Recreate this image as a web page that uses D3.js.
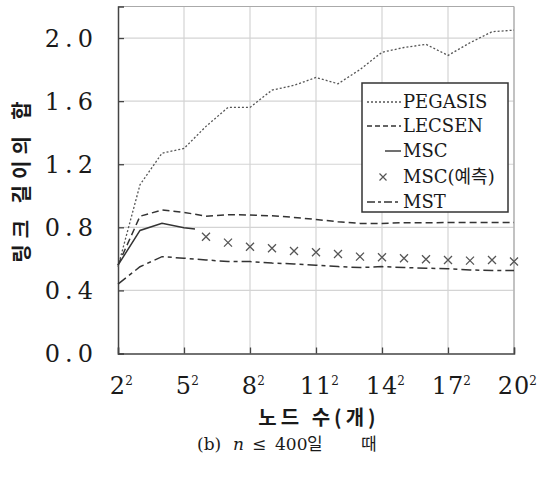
<!DOCTYPE html>
<html>
<head>
<meta charset="utf-8">
<script src="https://cdn.jsdelivr.net/npm/d3@7/dist/d3.min.js"></script>
<style>
html,body{margin:0;padding:0;background:#fff;}
svg{display:block;}
</style>
</head>
<body>
<svg id="chart" width="541" height="478"></svg>
<script>
// ---- data ----
const sideN = [2,3,4,5,6,7,8,9,10,11,12,13,14,15,16,17,18,19,20];
const xTickSides = [2,5,8,11,14,17,20];
const yTickValues = [0,0.4,0.8,1.2,1.6,2.0];
const pegasis = [0.55,1.07,1.27,1.30,1.44,1.56,1.56,1.67,1.70,1.75,1.71,1.80,1.91,1.94,1.96,1.89,1.97,2.04,2.05];
const lecsen  = [0.56,0.87,0.91,0.895,0.87,0.88,0.878,0.873,0.863,0.85,0.835,0.825,0.825,0.829,0.829,0.83,0.83,0.83,0.83];
const mst     = [0.44,0.55,0.614,0.604,0.593,0.583,0.583,0.573,0.568,0.56,0.551,0.545,0.551,0.545,0.541,0.537,0.53,0.526,0.526];
const mscSides = [2,3,4,5,5.5];
const msc      = [0.56,0.78,0.825,0.797,0.79];
const predSides = [6,7,8,9,10,11,12,13,14,15,16,17,18,19,20];
const mscPred   = [0.74,0.703,0.677,0.667,0.65,0.642,0.631,0.614,0.61,0.604,0.598,0.593,0.589,0.593,0.583];
const legendLabels = ["PEGASIS","LECSEN","MSC","MSC(예측)","MST"];
const yTitle = "링크 길이의 합";
const xTitle = "노드 수(개)";

// ---- layout ----
const svg = d3.select("#chart");
const x = d3.scaleLinear().domain([2,20]).range([118,514]);
const y = d3.scaleLinear().domain([0,2.2]).range([353.5,6.5]);
const lineCol = "#333";
const gridCol = "#d4d4d4";
const serif = "'DejaVu Serif','Noto Sans CJK KR',serif";
const kor = "'Noto Sans CJK KR',sans-serif";

// gridlines
svg.append("g").selectAll("line").data(yTickValues.filter(v=>v>0)).join("line")
  .attr("x1",x(2)).attr("x2",x(20)).attr("y1",d=>y(d)).attr("y2",d=>y(d))
  .attr("stroke",gridCol).attr("stroke-width",1.2);
svg.append("g").selectAll("line").data(xTickSides.filter(v=>v>2)).join("line")
  .attr("x1",d=>x(d)).attr("x2",d=>x(d)).attr("y1",y(0)).attr("y2",y(2.2))
  .attr("stroke",gridCol).attr("stroke-width",1.2);
// top & right frame
svg.append("line").attr("x1",x(2)).attr("x2",x(20)).attr("y1",y(2.2)).attr("y2",y(2.2))
  .attr("stroke","#aaa").attr("stroke-width",1.2);
svg.append("line").attr("x1",x(20)).attr("x2",x(20)).attr("y1",y(2.2)).attr("y2",y(0))
  .attr("stroke","#aaa").attr("stroke-width",1.2);

// axes (inward ticks)
const yAxis = d3.axisRight(y).tickValues(yTickValues).tickSize(6).tickFormat("");
const gy = svg.append("g").attr("transform",`translate(${x(2)},0)`).call(yAxis);
gy.select(".domain").attr("stroke","#444").attr("stroke-width",1.5);
gy.selectAll(".tick line").attr("stroke","#444").attr("stroke-width",1.3);
const xAxis = d3.axisTop(x).tickValues(xTickSides).tickSize(6).tickFormat("");
const gx = svg.append("g").attr("transform",`translate(0,${y(0)})`).call(xAxis);
gx.select(".domain").attr("stroke","#444").attr("stroke-width",1.5);
gx.selectAll(".tick line").attr("stroke","#444").attr("stroke-width",1.3);

// y tick labels
svg.append("g").selectAll("text").data(yTickValues).join("text")
  .attr("x",93+5).attr("y",d=>y(d)).attr("dy","0.36em")
  .attr("text-anchor","end")
  .style("font-family",serif).style("font-size","24px").style("letter-spacing","5px")
  .attr("fill","#1a1a1a").text(d=>d.toFixed(1));

// x tick labels with superscript
const xl = svg.append("g").selectAll("text").data(xTickSides).join("text")
  .attr("y",394)
  .style("font-family",serif).style("font-size","24px")
  .attr("fill","#1a1a1a");
xl.append("tspan").attr("class","base").style("letter-spacing","1px").text(d=>d);
xl.append("tspan").attr("dy",-9).attr("dx",-1).style("font-size","12px").text("2");
xl.each(function(d){
  const b = d3.select(this).select(".base").node().getComputedTextLength();
  d3.select(this).attr("x", x(d) - b/2);
});

// titles
svg.append("text").attr("transform","translate(29,179) rotate(-90)")
  .attr("text-anchor","middle")
  .style("font-family",kor).style("font-size","20px").style("font-weight","bold")
  .style("letter-spacing","6px").attr("fill","#1a1a1a").text(yTitle);
svg.append("text").attr("x",319).attr("y",425).attr("text-anchor","middle")
  .style("font-family",kor).style("font-size","20px").style("font-weight","bold")
  .style("letter-spacing","4px").attr("fill","#1a1a1a").text(xTitle);

// caption
const capY = 450;
const capParts = [
  {t:"(b)", x:197, f:serif, s:"normal"},
  {t:"n", x:233, f:serif, s:"italic"},
  {t:"≤", x:252, f:serif, s:"normal"},
  {t:"400", x:275, f:serif, s:"normal"},
  {t:"일", x:307, f:kor, s:"normal"},
  {t:"때", x:361, f:kor, s:"normal"}
];
svg.append("g").selectAll("text").data(capParts).join("text")
  .attr("x",d=>d.x).attr("y",capY)
  .style("font-family",d=>d.f).style("font-style",d=>d.s).style("font-size","17px")
  .attr("fill","#1a1a1a").text(d=>d.t);

// lines
const line = d3.line().x(d=>x(d[0])).y(d=>y(d[1]));
const styles = [
  {data: d3.zip(sideN,pegasis), dash:"2,2", w:1.3, col:"#555"},
  {data: d3.zip(sideN,lecsen), dash:"7,4", w:1.5, col:lineCol},
  {data: d3.zip(mscSides,msc), dash:null, w:1.5, col:lineCol},
  {data: d3.zip(sideN,mst), dash:"10,4,4,4", w:1.5, col:lineCol}
];
styles.forEach(s=>{
  svg.append("path").attr("d",line(s.data)).attr("fill","none")
    .attr("stroke",s.col).attr("stroke-width",s.w)
    .attr("stroke-dasharray",s.dash);
});
// crosses
const cross = "M-4,-4L4,4M-4,4L4,-4";
svg.append("g").selectAll("path").data(d3.zip(predSides,mscPred)).join("path")
  .attr("transform",d=>`translate(${x(d[0])},${y(d[1])})`)
  .attr("d",cross).attr("stroke","#555").attr("stroke-width",1.3).attr("fill","none");

// legend
const lg = svg.append("g");
lg.append("rect").attr("x",362).attr("y",83).attr("width",146).attr("height",129)
  .attr("fill","#fff").attr("stroke","#333").attr("stroke-width",1.5);
const rowY = [108,132,157,183,208];
const legStyle = [
  {dash:"2,2", col:"#555", x1:367},
  {dash:"5,3", col:lineCol, x1:367},
  {dash:null, col:lineCol, x1:385},
  null,
  {dash:"8,3,3,3", col:lineCol, x1:367}
];
legendLabels.forEach((lab,i)=>{
  const ly = rowY[i]-6;
  if(legStyle[i]){
    lg.append("line").attr("x1",legStyle[i].x1).attr("x2",401).attr("y1",ly).attr("y2",ly)
      .attr("stroke",legStyle[i].col).attr("stroke-width",1.4)
      .attr("stroke-dasharray",legStyle[i].dash);
  } else {
    lg.append("path").attr("transform",`translate(383,${ly})`).attr("d","M-3.5,-3.5L3.5,3.5M-3.5,3.5L3.5,-3.5")
      .attr("stroke","#555").attr("stroke-width",1.2);
  }
  lg.append("text").attr("x",403).attr("y",rowY[i])
    .style("font-family",serif).style("font-size","18px").attr("fill","#1a1a1a").text(lab);
});
</script>
</body>
</html>
